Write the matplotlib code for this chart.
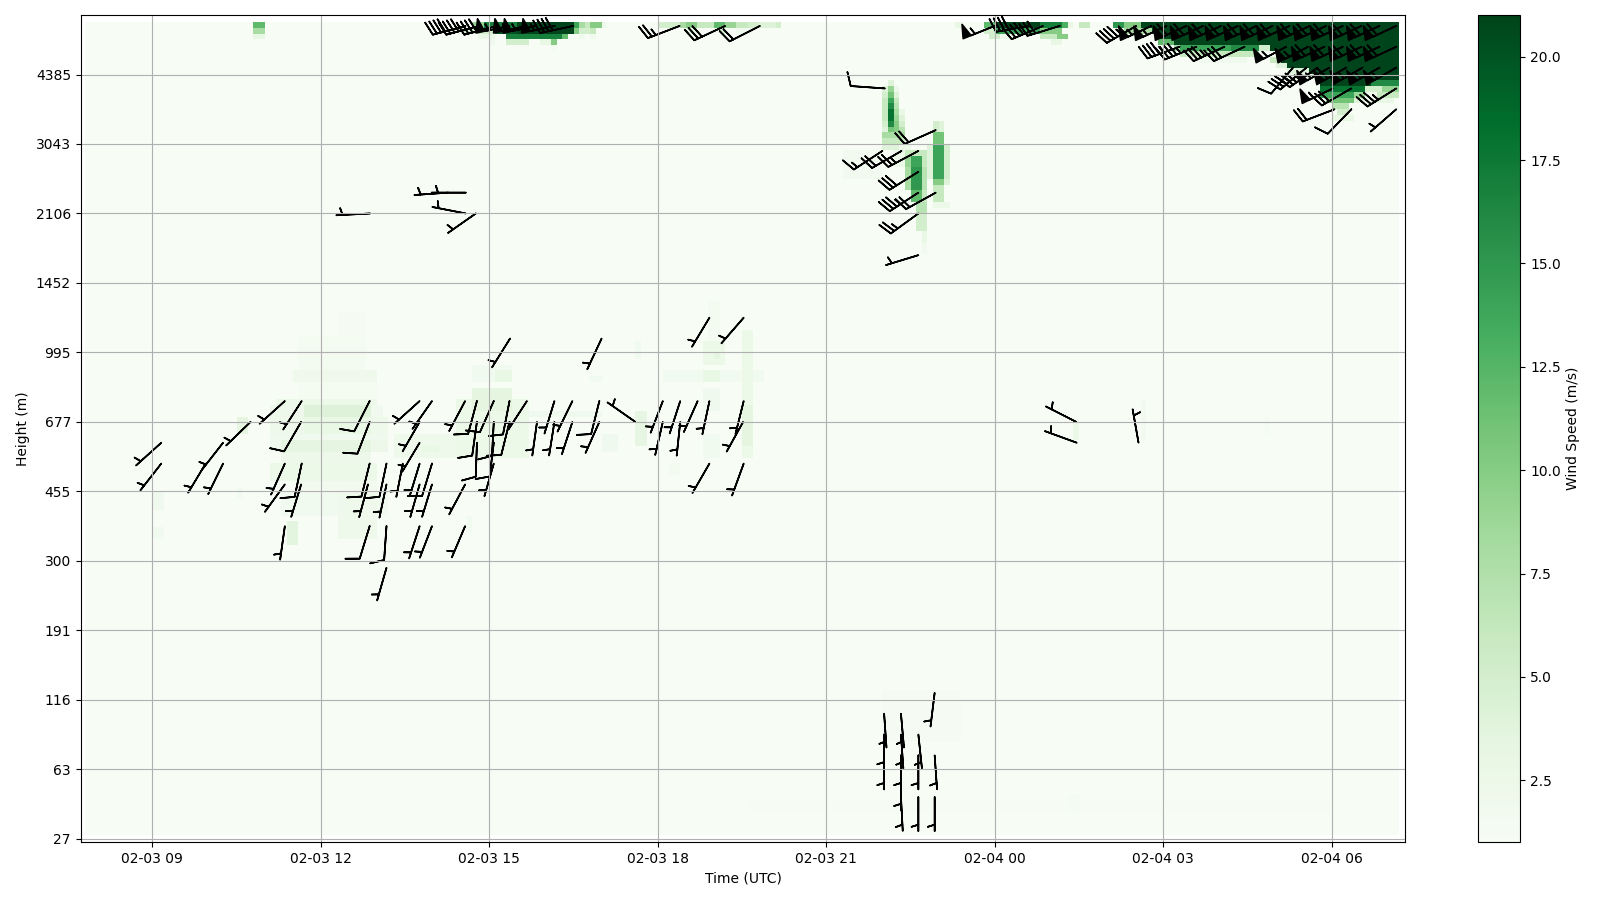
"""Wind profiler time-height plot: speed shading with wind barbs."""

from datetime import datetime

import matplotlib
matplotlib.use("Agg")
import matplotlib.dates as mdates
import matplotlib.pyplot as plt
import numpy as np

# y axis is level index, labelled with the height of every 12th level
height_ticks = [0, 12, 24, 36, 48, 60, 72, 84, 96, 108, 120, 132]
height_labels = ["27", "63", "116", "191", "300", "455", "677", "995", "1452", "2106", "3043", "4385"]
cbar_ticks = [2.5, 5.0, 7.5, 10.0, 12.5, 15.0, 17.5, 20.0]

# shading patches: hour from 02-03 00, hour end, level start, level end, speed (m/s)
central_blob = [
    (12.28, 12.81, 87.3, 90.7, 1.35), (11.62, 12.81, 84.4, 87.3, 1.5), (11.56, 12.81, 80.9, 84.4, 1.6),
    (11.5, 13.05, 78.6, 80.9, 2.2), (11.56, 12.99, 76.3, 78.6, 1.5), (11.15, 13.05, 75.1, 76.3, 2.6),
    (11.68, 12.87, 72.8, 75.1, 4.2), (11.09, 11.68, 72.8, 75.1, 2.4), (12.87, 13.11, 72.8, 75.1, 2.0),
    (11.09, 13.17, 69.9, 72.8, 2.2), (11.68, 12.87, 69.9, 72.8, 3.0), (11.09, 13.17, 68.8, 69.9, 2.0),
    (11.33, 12.93, 66.5, 68.8, 3.4), (11.09, 11.33, 66.5, 68.8, 2.0), (12.93, 13.17, 66.5, 68.8, 2.4),
    (11.33, 12.93, 64.7, 66.5, 2.4), (11.09, 13.05, 61.8, 64.7, 2.6), (11.56, 13.05, 59.5, 61.8, 1.7),
    (11.27, 13.17, 56, 59.5, 1.8), (12.28, 13.05, 56, 59.5, 2.2), (12.28, 13.05, 52, 56, 2.2),
    (11.39, 11.56, 50.8, 54.9, 3.6),
]
faint_patches = [
    (10.5, 10.7, 70, 72.5, 3.5),
    (13.3, 14.35, 65.9, 70, 2.2), (13.76, 14.06, 66.5, 68.2, 3.0), (14.35, 15.66, 65.9, 75.7, 2.5),
    (14.65, 15.42, 74, 77.4, 3.5), (15.07, 15.42, 78.9, 80.6, 3.0), (14.65, 15.42, 78.6, 81.5, 1.8),
    (15.72, 16.96, 72.8, 74, 2.0), (16.85, 16.96, 78.6, 80.3, 1.8), (14.6, 14.7, 52.5, 56, 1.8),
    (9.0, 9.2, 57.2, 59.5, 2.0), (9.0, 9.2, 51.4, 53.7, 1.8), (10.5, 10.6, 58.4, 60.7, 1.8),
    (18.82, 19.23, 82, 85.5, 2.6), (18.97, 19.15, 82.5, 84, 3.5), (18.05, 19.9, 78.6, 80.9, 1.8),
    (18.76, 19.1, 78.6, 80.9, 3.0), (18.94, 19.15, 85.5, 93, 1.6), (19.5, 19.74, 65.9, 88.4, 2.5),
    (19.5, 19.74, 67.6, 75.1, 3.5), (17.57, 17.78, 68.2, 73.4, 3.2), (17.57, 17.75, 82.6, 86, 1.8),
    (18.76, 19.1, 73.4, 77.4, 2.0), (18.76, 19.1, 65.9, 69.9, 1.8), (18.17, 18.4, 63, 65.3, 1.6),
    (17.0, 17.33, 67, 70, 2.0), (25.4, 25.51, 68.9, 71.7, 2.5), (26.56, 26.7, 69, 75.8, 1.7),
    (28.8, 28.95, 70, 73, 1.5), (22.0, 23.4, 17, 26, 1.3), (19.65, 30.0, 5, 7, 1.15),
    (25.3, 25.5, 5, 7.5, 1.5), (21.3, 21.99, 113.8, 119.2, 1.7), (22.2, 22.5, 116, 120, 2.5),
]
early_top = [
    (10.77, 10.97, 140, 141, 12), (10.77, 10.97, 139, 140, 8), (10.77, 10.97, 138, 139, 3),
]
afternoon_top = [
    (14.72, 14.89, 140, 141, 9), (14.89, 15.49, 140, 141, 17), (15.49, 16.53, 140, 141, 21),
    (16.53, 16.65, 140, 141, 14), (16.65, 16.73, 140, 141, 8), (16.73, 16.85, 140, 141, 6),
    (16.85, 17.03, 140, 141, 10), (17.03, 17.12, 140, 141, 2),
    (14.48, 15.07, 139, 140, 5), (15.07, 15.49, 139, 140, 20), (15.49, 16.5, 139, 140, 21),
    (16.5, 16.65, 139, 140, 10), (16.65, 16.79, 139, 140, 5), (16.85, 16.91, 139, 140, 6),
    (14.83, 15.07, 138, 139, 3), (15.31, 16.26, 138, 139, 17), (16.26, 16.44, 138, 139, 12),
    (16.62, 16.73, 138, 139, 2), (16.85, 16.91, 138, 139, 2),
    (15.0, 15.13, 137, 138, 2), (15.34, 15.72, 137, 138, 5), (15.93, 16.11, 137, 138, 3),
    (16.14, 16.23, 137, 138, 10), (16.14, 16.23, 136, 137, 1.5),
]
evening_top = [
    (18.04, 18.36, 140, 141, 5), (18.36, 18.51, 140, 141, 8), (18.51, 18.75, 140, 141, 10),
    (18.75, 18.98, 140, 141, 6), (18.98, 19.22, 140, 141, 12), (19.22, 19.37, 140, 141, 9),
    (19.37, 19.55, 140, 141, 6), (19.55, 19.82, 140, 141, 5), (19.82, 20.05, 140, 141, 4),
    (20.05, 20.17, 140, 141, 5), (18.51, 18.7, 139, 140, 3), (19.05, 19.22, 139, 140, 5),
    (19.4, 19.75, 139, 140, 2),
]
streak_one = [
    (22.07, 22.18, 130.35, 131.3, 4), (21.99, 22.07, 129.3, 130.35, 4), (22.07, 22.18, 129.3, 130.35, 9),
    (22.18, 22.28, 129.3, 130.35, 2.5), (21.99, 22.07, 128.3, 129.3, 5), (22.07, 22.18, 128.3, 129.3, 11),
    (22.18, 22.28, 128.3, 129.3, 4), (21.99, 22.07, 127.3, 128.3, 6), (22.07, 22.18, 127.3, 128.3, 14),
    (22.18, 22.28, 127.3, 128.3, 6), (21.99, 22.07, 126.3, 127.3, 6), (22.07, 22.18, 126.3, 127.3, 16),
    (22.18, 22.28, 126.3, 127.3, 7), (21.99, 22.07, 125.3, 126.3, 6), (22.07, 22.18, 125.3, 126.3, 18),
    (22.18, 22.28, 125.3, 126.3, 8), (22.28, 22.37, 125.3, 126.3, 3), (21.99, 22.07, 124.3, 125.3, 6),
    (22.07, 22.18, 124.3, 125.3, 18), (22.18, 22.28, 124.3, 125.3, 9), (22.28, 22.37, 124.3, 125.3, 4),
    (21.99, 22.07, 123.3, 124.3, 5), (22.07, 22.18, 123.3, 124.3, 16), (22.18, 22.28, 123.3, 124.3, 10),
    (22.28, 22.37, 123.3, 124.3, 5), (21.99, 22.07, 122.3, 123.3, 4), (22.07, 22.18, 122.3, 123.3, 11),
    (22.18, 22.28, 122.3, 123.3, 10), (22.28, 22.37, 122.3, 123.3, 7), (21.99, 22.37, 121.3, 122.3, 8),
    (21.99, 22.37, 120.1, 121.3, 6), (21.99, 22.32, 119, 120.1, 4),
]
streak_two = [
    (22.4, 22.79, 118.4, 119.2, 6), (22.49, 22.69, 116.1, 118.4, 14), (22.37, 22.49, 116.1, 118.4, 9),
    (22.69, 22.79, 116.1, 118.4, 6), (22.49, 22.69, 112, 116.1, 15), (22.4, 22.49, 112, 116.1, 8),
    (22.69, 22.79, 112, 116.1, 7), (22.49, 22.69, 109.7, 112, 12), (22.69, 22.79, 109.7, 112, 6),
    (22.58, 22.79, 108, 109.7, 7), (22.58, 22.79, 105.1, 108, 5), (22.67, 22.79, 102.8, 105.1, 3),
    (22.67, 22.79, 100.5, 102.8, 1.8),
]
streak_three = [
    (22.89, 22.99, 122.1, 124.1, 5), (22.99, 23.09, 122.1, 124.1, 4), (22.89, 23.09, 120, 122.1, 11),
    (22.89, 23.09, 114.4, 120, 14), (23.09, 23.18, 114.4, 120, 5), (22.79, 22.89, 114.4, 120, 4),
    (22.89, 23.09, 112.9, 114.4, 10), (23.09, 23.2, 112.9, 114.4, 4), (22.89, 23.09, 110.3, 112.9, 6),
    (22.89, 23.18, 108.6, 110.3, 2.5),
]
midnight_top = [
    (23.3, 23.42, 140, 141, 3), (23.8, 24.0, 140, 141, 12), (24.0, 24.8, 140, 141, 21),
    (24.8, 25.18, 140, 141, 17), (25.18, 25.3, 140, 141, 13), (25.3, 25.4, 140, 141, 3),
    (25.5, 25.7, 140, 141, 6), (23.8, 24.0, 139, 140, 5), (24.0, 24.8, 139, 140, 14),
    (24.8, 25.18, 139, 140, 10), (23.9, 24.15, 138, 139, 5), (24.15, 24.27, 138, 139, 2),
    (24.8, 25.1, 138, 139, 6), (25.1, 25.28, 138, 139, 10), (25.04, 25.16, 137, 138, 3),
]
morning_jet = [
    (26.1, 26.3, 140, 141, 15), (26.3, 26.58, 140, 141, 10), (26.58, 31.2, 140, 141, 21),
    (26.3, 26.76, 139, 140, 8), (26.76, 31.2, 139, 140, 21), (26.88, 31.2, 138, 139, 21),
    (26.88, 27.17, 137, 138, 12), (27.17, 31.2, 137, 138, 21),
    (27.17, 27.3, 136, 137, 8), (27.3, 28.18, 136, 137, 14), (28.18, 28.66, 136, 137, 16),
    (28.66, 28.87, 136, 137, 5), (28.87, 31.2, 136, 137, 21),
    (27.3, 28.66, 135, 136, 6), (29.01, 31.2, 135, 136, 21),
    (27.6, 28.5, 134, 135, 2), (28.87, 29.13, 134, 135, 6), (29.13, 31.2, 134, 135, 21),
    (29.0, 29.25, 133, 134, 4), (29.25, 31.2, 133, 134, 21),
    (29.2, 29.55, 132, 133, 4), (29.55, 31.2, 132, 133, 21),
    (29.3, 29.76, 131, 132, 3), (29.76, 31.2, 131, 132, 21),
    (29.79, 30.73, 130, 131, 21), (30.73, 31.2, 130, 131, 16),
    (29.82, 30.62, 129, 130, 18), (30.62, 30.9, 129, 130, 5), (30.9, 31.2, 129, 130, 9),
    (29.79, 30.44, 128, 129, 14), (30.44, 30.62, 128, 129, 9), (30.62, 30.8, 128, 129, 2),
    (30.8, 31.2, 128, 129, 6), (29.9, 30.38, 127, 128, 11), (30.38, 30.6, 127, 128, 4),
    (30.7, 31.15, 127, 128, 3), (30.02, 30.32, 126, 127, 7), (30.08, 30.32, 125, 126, 5),
    (30.02, 30.38, 124, 125, 3),
]

# barbs: hour, level, speed (kt), direction the staff points to from tail to tip (deg)
barbs_morning = [
    (9.16, 68.4, 5, 42), (9.16, 64.8, 5, 52), (9.95, 64.8, 5, 59), (10.26, 68.4, 5, 52),
    (10.26, 64.8, 5, 64), (10.75, 72, 5, 44), (11.36, 75.6, 5, 42), (11.66, 75.6, 5, 57),
    (11.65, 72, 10, 60), (11.36, 64.8, 5, 66), (11.36, 61.2, 5, 54), (11.66, 64.8, 10, 78),
    (11.65, 61.2, 5, 73), (11.36, 54, 5, 82), (12.87, 75.6, 10, 63), (12.87, 72, 10, 69),
    (12.87, 64.8, 10, 76), (12.84, 61.2, 5, 75), (13.17, 64.8, 10, 78), (13.17, 61.2, 5, 78),
    (12.87, 54, 10, 73), (13.17, 54, 10, 86), (13.17, 46.8, 5, 74),
]
barbs_midday = [
    (13.76, 75.6, 5, 42), (13.98, 75.6, 5, 55), (13.76, 72, 5, 60), (13.76, 68.4, 5, 59),
    (13.46, 64.8, 5, 79), (13.76, 64.8, 5, 73), (13.98, 64.8, 10, 73), (13.76, 61.2, 5, 74),
    (13.98, 61.2, 5, 73), (13.76, 54, 5, 72), (13.98, 54, 5, 69), (14.57, 75.6, 5, 62),
    (14.78, 75.6, 10, 75), (15.08, 75.6, 10, 66), (15.36, 75.6, 10, 79), (15.67, 75.6, 5, 57),
    (14.78, 72, 10, 82), (15.08, 72, 10, 87), (15.36, 72, 10, 76), (14.78, 68.4, 10, 88),
    (15.08, 68.4, 10, 83), (15.08, 64.8, 5, 74), (14.57, 61.2, 5, 62), (14.57, 54, 5, 67),
    (15.37, 86.4, 5, 58), (16.16, 75.6, 5, 73), (16.48, 75.6, 5, 64), (15.85, 72, 5, 82),
    (16.16, 72, 5, 81), (16.48, 72, 5, 72), (16.96, 75.6, 10, 76), (16.96, 72, 5, 66),
    (17.0, 86.4, 5, 65),
]
barbs_evening = [
    (17.6, 72, 5, -35), (18.09, 75.6, 5, 69), (18.4, 75.6, 5, 72), (18.71, 75.6, 5, 66),
    (18.92, 75.6, 5, 78), (19.53, 75.6, 5, 76), (18.09, 72, 5, 77), (18.4, 72, 5, 84),
    (19.52, 72, 5, 61), (18.92, 90, 5, 59), (19.53, 90, 5, 49), (18.92, 64.8, 5, 60),
    (19.53, 64.8, 5, 70),
]
barbs_upper_mid = [
    (12.88, 108, 5, 3), (14.58, 111.6, 5, 0), (14.27, 111.6, 5, 4), (14.58, 108, 5, -11),
    (14.76, 108, 5, 35), (25.45, 72, 5, -27), (25.46, 68.4, 5, -20), (26.56, 68.4, 5, -80),
]
barbs_streaks = [
    (22.04, 129.6, 10, -4), (22.95, 122.4, 20, 24), (22.64, 118.8, 25, 28), (22.34, 118.8, 20, 30),
    (22.0, 118.8, 15, 33), (22.64, 115.2, 30, 32), (22.64, 111.6, 35, 33), (22.95, 111.6, 20, 29),
    (22.64, 108, 25, 36), (22.64, 100.8, 5, 17),
]
barbs_low = [
    (22.93, 25.2, 5, 83), (22.03, 21.6, 5, 94), (22.33, 21.6, 5, 95), (22.64, 18, 5, 96),
    (22.03, 18, 5, 90), (22.33, 18, 5, 94), (22.33, 14.4, 5, 90), (22.64, 14.4, 5, 90),
    (22.93, 14.4, 5, 94), (22.03, 14.4, 5, 90), (22.33, 10.8, 5, 90), (22.33, 7.2, 5, 93),
    (22.64, 7.2, 5, 90), (22.93, 7.2, 5, 90),
]
barbs_top_day = [
    (14.58, 140.4, 40, 15), (14.82, 140.4, 40, 15), (15.14, 140.4, 40, 15), (15.36, 140.4, 55, 12),
    (15.67, 140.4, 55, 12), (15.84, 140.4, 55, 12), (16.17, 140.4, 55, 12), (16.5, 140.4, 40, 12),
    (18.39, 140.4, 25, 21), (19.2, 140.4, 30, 25), (19.82, 140.4, 20, 27),
]
barbs_top_night = [
    (24.0, 140.4, 55, 22), (24.62, 140.4, 40, 10), (24.86, 140.4, 40, 23), (25.16, 140.4, 30, 17),
    (26.52, 140.4, 45, 30), (26.79, 140.4, 55, 25), (27.06, 140.4, 55, 25), (27.41, 140.4, 60, 25),
    (27.71, 140.4, 60, 25), (28.03, 140.4, 60, 25), (28.33, 140.4, 60, 25), (28.66, 140.4, 60, 25),
    (28.95, 140.4, 60, 25), (29.25, 140.4, 60, 25), (29.61, 140.4, 60, 25), (29.9, 140.4, 60, 25),
    (30.2, 140.4, 60, 25), (30.53, 140.4, 60, 25), (30.85, 140.4, 60, 25), (31.15, 140.4, 60, 25),
    (27.29, 136.8, 45, 20), (27.59, 136.8, 45, 22), (28.09, 136.8, 35, 25), (28.45, 136.8, 30, 25),
    (29.19, 136.8, 55, 28), (29.58, 136.8, 55, 28), (29.87, 136.8, 60, 25), (30.2, 136.8, 60, 25),
    (30.53, 136.8, 60, 25), (30.85, 136.8, 60, 25), (31.15, 136.8, 60, 25),
    (29.31, 133.2, 10, 50), (29.55, 133.2, 35, 40), (29.75, 133.2, 35, 35), (29.96, 133.2, 55, 30),
    (30.26, 133.2, 60, 30), (30.55, 133.2, 55, 30), (30.85, 133.2, 55, 30), (31.15, 133.2, 55, 30),
    (30.02, 129.6, 55, 26), (30.35, 129.6, 30, 30), (31.15, 129.6, 35, 32),
    (30.05, 126, 20, 21), (30.35, 126, 10, 46), (31.15, 126, 5, 41),
]


def hours_to_num(hours):
    start = mdates.date2num(datetime(2024, 2, 3))
    return start + np.asarray(hours) / 24.0


def build_field(hour_edges, level_edges):
    hour_mid = 0.5 * (hour_edges[:-1] + hour_edges[1:])
    level_mid = 0.5 * (level_edges[:-1] + level_edges[1:])
    field = np.ones((level_mid.size, hour_mid.size))
    groups = [central_blob, faint_patches, early_top, afternoon_top, evening_top,
              streak_one, streak_two, streak_three, midnight_top, morning_jet]
    for group in groups:
        for h0, h1, i0, i1, val in group:
            cols = (hour_mid >= h0) & (hour_mid < h1)
            rows = (level_mid >= i0) & (level_mid < i1)
            field[np.ix_(rows, cols)] = np.maximum(field[np.ix_(rows, cols)], val)
    return field


def main():
    hour_edges = np.linspace(7.8, 31.2, 235)
    level_edges = np.linspace(0.64, 141.07, 141)
    field = build_field(hour_edges, level_edges)

    fig = plt.figure(figsize=(16, 9), dpi=100)
    ax = fig.add_axes([80.7 / 1600, 1 - 842.3 / 900, 1324.6 / 1600, 827 / 900])
    cax = fig.add_axes([1478.3 / 1600, 1 - 842.3 / 900, 42 / 1600, 827 / 900])

    mesh = ax.pcolormesh(hours_to_num(hour_edges), level_edges, field, cmap="Greens", vmin=1, vmax=21)

    barb_sets = [barbs_morning, barbs_midday, barbs_evening, barbs_upper_mid,
                 barbs_streaks, barbs_low, barbs_top_day, barbs_top_night]
    barb_arr = np.array([row for group in barb_sets for row in group], dtype=float)
    angle = np.deg2rad(barb_arr[:, 3])
    ax.barbs(hours_to_num(barb_arr[:, 0]), barb_arr[:, 1],
             barb_arr[:, 2] * np.cos(angle), barb_arr[:, 2] * np.sin(angle),
             length=7, linewidth=1.2, color="black")

    ax.set_xlim(hours_to_num(7.725), hours_to_num(31.31))
    ax.set_ylim(-0.62, 142.23)
    ax.set_yticks(height_ticks)
    ax.set_yticklabels(height_labels)
    ax.xaxis.set_major_locator(mdates.HourLocator(byhour=range(0, 24, 3)))
    ax.xaxis.set_major_formatter(mdates.DateFormatter("%m-%d %H"))
    ax.set_xlabel("Time (UTC)")
    ax.set_ylabel("Height (m)")
    ax.grid(True)

    cbar = fig.colorbar(mesh, cax=cax)
    cbar.set_ticks(cbar_ticks)
    cbar.set_label("Wind Speed (m/s)")

    fig.savefig("out.png", dpi=100)


if __name__ == "__main__":
    main()
